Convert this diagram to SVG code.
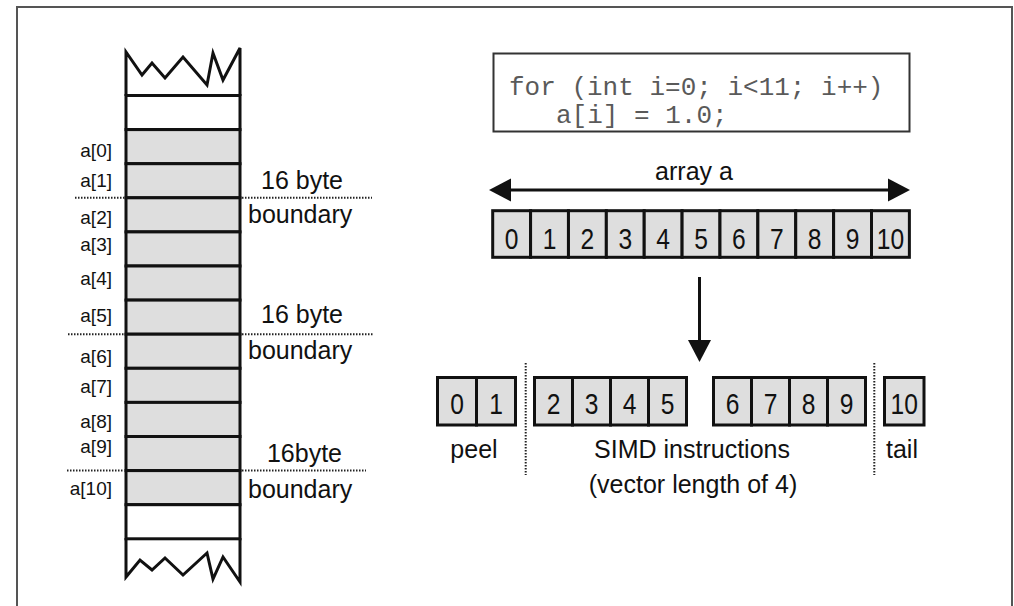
<svg xmlns="http://www.w3.org/2000/svg" width="1014" height="606" viewBox="0 0 1014 606">
  <style>
    .frame { fill: none; stroke: #555; stroke-width: 2; }
    .cell { fill: #dedede; stroke: #111; stroke-width: 3; }
    .blank { fill: #fff; stroke: #111; stroke-width: 3; }
    .edge { fill: none; stroke: #111; stroke-width: 3; stroke-linejoin: miter; }
    .dots { stroke: #222; stroke-width: 2; stroke-dasharray: 1.5 1.5; fill: none; }
    .lbl { font-family: "Liberation Sans", Arial, sans-serif; font-size: 19px; fill: #111; text-anchor: end; }
    .txt { font-family: "Liberation Sans", Arial, sans-serif; font-size: 25px; fill: #111; }
    .mid { text-anchor: middle; }
    .num { font-family: "Liberation Sans", Arial, sans-serif; font-size: 30px; fill: #111; text-anchor: middle; }
    .code { font-family: "Liberation Mono", "Courier New", monospace; font-size: 26px; fill: #5a5a5a; }
    .codebox { fill: #fff; stroke: #333; stroke-width: 2; }
    .conn { stroke: #111; stroke-width: 3; fill: none; }
  </style>
  <defs>
    <marker id="head" viewBox="0 -12 22 24" refX="1" refY="0" markerWidth="22" markerHeight="24" markerUnits="userSpaceOnUse" orient="auto-start-reverse">
      <path d="M0,-11.5 L22,0 L0,11.5 z" fill="#111"/>
    </marker>
  </defs>

  <!-- outer frame -->
  <path class="frame" d="M17,606 V7 H1012 V606"/>

  <!-- 16 byte boundary markers (dotted lines + labels) -->
  <g id="boundaries">
    <line class="dots" x1="75" y1="197.8" x2="124" y2="197.8"/>
    <line class="dots" x1="242" y1="197.8" x2="372" y2="197.8"/>
    <line class="dots" x1="68" y1="334.2" x2="124" y2="334.2"/>
    <line class="dots" x1="242" y1="334.2" x2="373" y2="334.2"/>
    <line class="dots" x1="67" y1="470.6" x2="124" y2="470.6"/>
    <line class="dots" x1="242" y1="470.6" x2="366" y2="470.6"/>
    <text class="txt" x="343" y="189" text-anchor="end" font-size="26">16 byte</text>
    <text class="txt" x="248" y="223" font-size="26">boundary</text>
    <text class="txt" x="343" y="323" text-anchor="end" font-size="26">16 byte</text>
    <text class="txt" x="248" y="359" font-size="26">boundary</text>
    <text class="txt" x="342" y="462" text-anchor="end" font-size="26">16byte</text>
    <text class="txt" x="248" y="498" font-size="26">boundary</text>
  </g>

  <!-- memory column -->
  <g id="memory-column">
    <path class="edge" d="M126,96 V52 L142,75 L152,63 L165,78 L183,57 L207,85 L213,53 L223,80 L240,48 V96"/>
    <path class="edge" d="M126,538 V577 L140,560 L152,570 L165,558 L183,575 L207,553 L213,579 L223,557 L240,582 V538"/>
    <rect class="blank" x="126" y="95.5" width="114" height="34.1"/>
    <g id="mem-a0"><rect class="cell" x="126" y="129.6" width="114" height="34.1"/><text class="lbl" x="112" y="157">a[0]</text></g>
    <g id="mem-a1"><rect class="cell" x="126" y="163.7" width="114" height="34.1"/><text class="lbl" x="112" y="187">a[1]</text></g>
    <g id="mem-a2"><rect class="cell" x="126" y="197.8" width="114" height="34.1"/><text class="lbl" x="112" y="224">a[2]</text></g>
    <g id="mem-a3"><rect class="cell" x="126" y="231.9" width="114" height="34.1"/><text class="lbl" x="112" y="251">a[3]</text></g>
    <g id="mem-a4"><rect class="cell" x="126" y="266" width="114" height="34.1"/><text class="lbl" x="112" y="285">a[4]</text></g>
    <g id="mem-a5"><rect class="cell" x="126" y="300.1" width="114" height="34.1"/><text class="lbl" x="112" y="322">a[5]</text></g>
    <g id="mem-a6"><rect class="cell" x="126" y="334.2" width="114" height="34.1"/><text class="lbl" x="112" y="363">a[6]</text></g>
    <g id="mem-a7"><rect class="cell" x="126" y="368.3" width="114" height="34.1"/><text class="lbl" x="112" y="393">a[7]</text></g>
    <g id="mem-a8"><rect class="cell" x="126" y="402.4" width="114" height="34.1"/><text class="lbl" x="112" y="428">a[8]</text></g>
    <g id="mem-a9"><rect class="cell" x="126" y="436.5" width="114" height="34.1"/><text class="lbl" x="112" y="453">a[9]</text></g>
    <g id="mem-a10"><rect class="cell" x="126" y="470.6" width="114" height="34.1"/><text class="lbl" x="112" y="495">a[10]</text></g>
    <rect class="blank" x="126" y="504.7" width="114" height="34.1"/>
  </g>

  <!-- source loop -->
  <g id="code">
    <rect class="codebox" x="493.5" y="53.5" width="416" height="78"/>
    <text class="code" x="509" y="95">for (int i=0; i&lt;11; i++)</text>
    <text class="code" x="556" y="123">a[i] = 1.0;</text>
  </g>

  <!-- whole array; digits are set in a horizontally condensed face -->
  <g id="array-a">
    <text class="txt mid" x="694" y="180" font-size="24">array a</text>
    <g transform="translate(492.7,210.7)">
      <rect class="cell" x="0" y="0" width="37.88" height="46.6"/>
      <rect class="cell" x="37.88" y="0" width="37.88" height="46.6"/>
      <rect class="cell" x="75.76" y="0" width="37.88" height="46.6"/>
      <rect class="cell" x="113.64" y="0" width="37.88" height="46.6"/>
      <rect class="cell" x="151.52" y="0" width="37.88" height="46.6"/>
      <rect class="cell" x="189.4" y="0" width="37.88" height="46.6"/>
      <rect class="cell" x="227.28" y="0" width="37.88" height="46.6"/>
      <rect class="cell" x="265.16" y="0" width="37.88" height="46.6"/>
      <rect class="cell" x="303.04" y="0" width="37.88" height="46.6"/>
      <rect class="cell" x="340.92" y="0" width="37.88" height="46.6"/>
      <rect class="cell" x="378.8" y="0" width="37.88" height="46.6"/>
      <text class="num" transform="translate(18.94,37.8) scale(0.82,1)">0</text>
      <text class="num" transform="translate(56.82,37.8) scale(0.82,1)">1</text>
      <text class="num" transform="translate(94.7,37.8) scale(0.82,1)">2</text>
      <text class="num" transform="translate(132.58,37.8) scale(0.82,1)">3</text>
      <text class="num" transform="translate(170.46,37.8) scale(0.82,1)">4</text>
      <text class="num" transform="translate(208.34,37.8) scale(0.82,1)">5</text>
      <text class="num" transform="translate(246.22,37.8) scale(0.82,1)">6</text>
      <text class="num" transform="translate(284.1,37.8) scale(0.82,1)">7</text>
      <text class="num" transform="translate(321.98,37.8) scale(0.82,1)">8</text>
      <text class="num" transform="translate(359.86,37.8) scale(0.82,1)">9</text>
      <text class="num" transform="translate(397.74,37.8) scale(0.82,1)">10</text>
    </g>
  </g>

  <!-- split of the loop -->
  <g id="split-peel">
    <rect class="cell" x="437.5" y="377.5" width="39" height="47.5"/>
    <rect class="cell" x="476.5" y="377.5" width="39" height="47.5"/>
    <text class="num" transform="translate(457,413.5) scale(0.82,1)">0</text>
    <text class="num" transform="translate(496,413.5) scale(0.82,1)">1</text>
    <text class="txt mid" x="474" y="458">peel</text>
  </g>
  <g id="split-simd-1">
    <rect class="cell" x="534.5" y="377.5" width="38" height="47.5"/>
    <rect class="cell" x="572.5" y="377.5" width="38" height="47.5"/>
    <rect class="cell" x="610.5" y="377.5" width="38" height="47.5"/>
    <rect class="cell" x="648.5" y="377.5" width="38" height="47.5"/>
    <text class="num" transform="translate(553.5,413.5) scale(0.82,1)">2</text>
    <text class="num" transform="translate(591.5,413.5) scale(0.82,1)">3</text>
    <text class="num" transform="translate(629.5,413.5) scale(0.82,1)">4</text>
    <text class="num" transform="translate(667.5,413.5) scale(0.82,1)">5</text>
  </g>
  <g id="split-simd-2">
    <rect class="cell" x="713.5" y="377.5" width="38" height="47.5"/>
    <rect class="cell" x="751.5" y="377.5" width="38" height="47.5"/>
    <rect class="cell" x="789.5" y="377.5" width="38" height="47.5"/>
    <rect class="cell" x="827.5" y="377.5" width="38" height="47.5"/>
    <text class="num" transform="translate(732.5,413.5) scale(0.82,1)">6</text>
    <text class="num" transform="translate(770.5,413.5) scale(0.82,1)">7</text>
    <text class="num" transform="translate(808.5,413.5) scale(0.82,1)">8</text>
    <text class="num" transform="translate(846.5,413.5) scale(0.82,1)">9</text>
  </g>
  <g id="simd-label">
    <text class="txt mid" x="692" y="458">SIMD instructions</text>
    <text class="txt mid" x="693" y="493">(vector length of 4)</text>
  </g>
  <g id="split-tail">
    <rect class="cell" x="884.5" y="377.5" width="39.5" height="47.5"/>
    <text class="num" transform="translate(904.2,413.5) scale(0.82,1)">10</text>
    <text class="txt mid" x="902" y="458">tail</text>
  </g>
  <g id="split-dividers">
    <line class="dots" x1="525.7" y1="363" x2="525.7" y2="475"/>
    <line class="dots" x1="874.3" y1="363" x2="874.3" y2="475"/>
  </g>

  <!-- connectors -->
  <g id="connectors">
    <line class="conn" x1="510" y1="190" x2="889" y2="190" marker-start="url(#head)" marker-end="url(#head)"/>
    <line class="conn" x1="699.5" y1="277" x2="699.5" y2="341" marker-end="url(#head)"/>
  </g>
</svg>
